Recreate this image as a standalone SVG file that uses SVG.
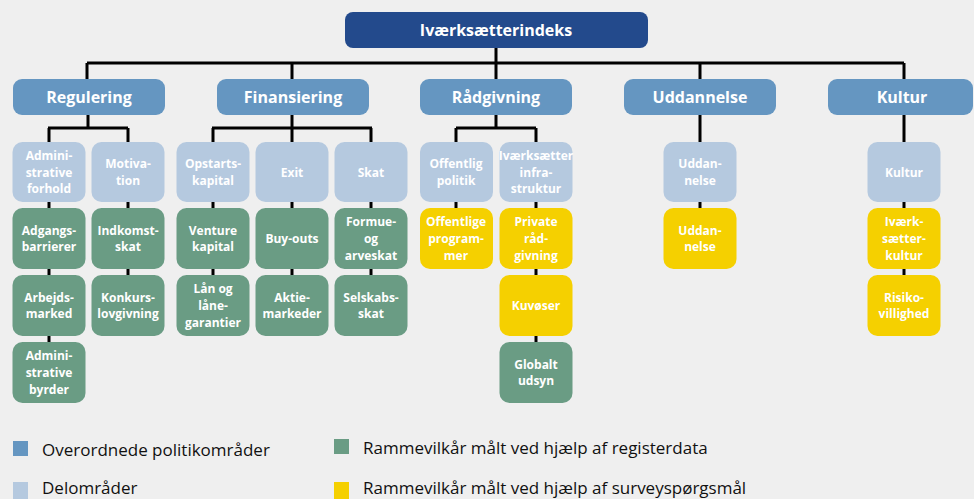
<svg xmlns="http://www.w3.org/2000/svg" width="974" height="499" viewBox="0 0 974 499">
<style>
.t{font-family:"Open Sans","Noto Sans","Liberation Sans",sans-serif;font-weight:bold;fill:#fff;text-anchor:middle;dominant-baseline:central}
.top{fill:#234a8c}
.l1{fill:#6596c1}
.l2{fill:#b5c9df}
.g{fill:#6a9c84}
.y{fill:#f5d000}
.t1{font-size:16px}
.t2{font-size:12px}
.c{stroke:#000;stroke-width:3;fill:none}
.lg{font-family:"Open Sans","Noto Sans","Liberation Sans",sans-serif;font-size:17px;fill:#111}
</style>
<rect width="974" height="499" fill="#efefef"/>
<g id="connectors" class="c">
<path d="M496 48V63M87 63H904M87 63V79M292 63V79M496 63V79M700 63V79M904 63V79"/>
<path d="M88 115V128M48 128H128M49 128V142M128 128V142"/>
<path d="M292 115V128M212 128H372M213 128V142M292 128V142M371 128V142"/>
<path d="M496 115V128M456 128H536M456 128V142M536 128V142"/>
<path d="M700 115V142M904 115V142"/>
<path d="M49 202V208M49 269V275M49 336V342"/>
<path d="M128 202V208M128 269V275"/>
<path d="M213 202V208M213 269V275M292 202V208M292 269V275M371 202V208M371 269V275"/>
<path d="M456 202V208M536 202V208M536 269V275M536 336V342"/>
<path d="M700 202V208M904 202V208M904 269V275"/>
</g>
<g id="n-top"><rect class="top" x="345" y="12" width="303" height="36" rx="8"/><text class="t t1" x="496" y="30">Iværksætterindeks</text></g>
<g id="n-regulering"><rect class="l1" x="13" y="79" width="152" height="36" rx="9"/><text class="t t1" x="89" y="97">Regulering</text></g>
<g id="n-finansiering"><rect class="l1" x="217" y="79" width="152" height="36" rx="9"/><text class="t t1" x="293" y="97">Finansiering</text></g>
<g id="n-radgivning"><rect class="l1" x="420" y="79" width="152" height="36" rx="9"/><text class="t t1" x="496" y="97">Rådgivning</text></g>
<g id="n-uddannelse"><rect class="l1" x="624" y="79" width="152" height="36" rx="9"/><text class="t t1" x="700" y="97">Uddannelse</text></g>
<g id="n-kultur"><rect class="l1" x="828" y="79" width="145" height="36" rx="9"/><text class="t t1" x="902" y="97">Kultur</text></g>

<g id="n-admforhold"><rect class="l2" x="12.5" y="142" width="73" height="60" rx="10"/><text class="t t2" x="49" y="155.3">Admini-</text><text class="t t2" x="49" y="172">strative</text><text class="t t2" x="49" y="188.7">forhold</text></g>
<g id="n-motivation"><rect class="l2" x="91.5" y="142" width="73" height="60" rx="10"/><text class="t t2" x="128" y="163.7">Motiva-</text><text class="t t2" x="128" y="180.3">tion</text></g>
<g id="n-adgang"><rect class="g" x="12.5" y="208" width="73" height="61" rx="10"/><text class="t t2" x="49" y="230.2">Adgangs-</text><text class="t t2" x="49" y="246.8">barrierer</text></g>
<g id="n-arbejd"><rect class="g" x="12.5" y="275" width="73" height="61" rx="10"/><text class="t t2" x="49" y="297.2">Arbejds-</text><text class="t t2" x="49" y="313.8">marked</text></g>
<g id="n-admbyrder"><rect class="g" x="12.5" y="342" width="73" height="61" rx="10"/><text class="t t2" x="49" y="355.8">Admini-</text><text class="t t2" x="49" y="372.5">strative</text><text class="t t2" x="49" y="389.2">byrder</text></g>
<g id="n-indkomst"><rect class="g" x="91.5" y="208" width="73" height="61" rx="10"/><text class="t t2" x="128" y="230.2">Indkomst-</text><text class="t t2" x="128" y="246.8">skat</text></g>
<g id="n-konkurs"><rect class="g" x="91.5" y="275" width="73" height="61" rx="10"/><text class="t t2" x="128" y="297.2">Konkurs-</text><text class="t t2" x="128" y="313.8">lovgivning</text></g>

<g id="n-opstart"><rect class="l2" x="176.5" y="142" width="73" height="60" rx="10"/><text class="t t2" x="213" y="163.7">Opstarts-</text><text class="t t2" x="213" y="180.3">kapital</text></g>
<g id="n-exit"><rect class="l2" x="255.5" y="142" width="73" height="60" rx="10"/><text class="t t2" x="292" y="172">Exit</text></g>
<g id="n-skat"><rect class="l2" x="334.5" y="142" width="73" height="60" rx="10"/><text class="t t2" x="371" y="172">Skat</text></g>
<g id="n-venture"><rect class="g" x="176.5" y="208" width="73" height="61" rx="10"/><text class="t t2" x="213" y="230.2">Venture</text><text class="t t2" x="213" y="246.8">kapital</text></g>
<g id="n-laan"><rect class="g" x="176.5" y="275" width="73" height="61" rx="10"/><text class="t t2" x="213" y="288.8">Lån og</text><text class="t t2" x="213" y="305.5">låne-</text><text class="t t2" x="213" y="322.2">garantier</text></g>
<g id="n-buyouts"><rect class="g" x="255.5" y="208" width="73" height="61" rx="10"/><text class="t t2" x="292" y="238.5">Buy-outs</text></g>
<g id="n-aktie"><rect class="g" x="255.5" y="275" width="73" height="61" rx="10"/><text class="t t2" x="292" y="297.2">Aktie-</text><text class="t t2" x="292" y="313.8">markeder</text></g>
<g id="n-formue"><rect class="g" x="334.5" y="208" width="73" height="61" rx="10"/><text class="t t2" x="371" y="221.8">Formue-</text><text class="t t2" x="371" y="238.5">og</text><text class="t t2" x="371" y="255.2">arveskat</text></g>
<g id="n-selskab"><rect class="g" x="334.5" y="275" width="73" height="61" rx="10"/><text class="t t2" x="371" y="297.2">Selskabs-</text><text class="t t2" x="371" y="313.8">skat</text></g>

<g id="n-offpol"><rect class="l2" x="420" y="142" width="73" height="60" rx="10"/><text class="t t2" x="456" y="163.7">Offentlig</text><text class="t t2" x="456" y="180.3">politik</text></g>
<g id="n-infra"><rect class="l2" x="499.5" y="142" width="73" height="60" rx="10"/><text class="t t2" x="536" y="155.3">Iværksætter</text><text class="t t2" x="536" y="172">infra-</text><text class="t t2" x="536" y="188.7">struktur</text></g>
<g id="n-offprog"><rect class="y" x="420" y="208" width="73" height="61" rx="10"/><text class="t t2" x="456" y="221.8">Offentlige</text><text class="t t2" x="456" y="238.5">program-</text><text class="t t2" x="456" y="255.2">mer</text></g>
<g id="n-private"><rect class="y" x="499.5" y="208" width="73" height="61" rx="10"/><text class="t t2" x="536" y="221.8">Private</text><text class="t t2" x="536" y="238.5">råd-</text><text class="t t2" x="536" y="255.2">givning</text></g>
<g id="n-kuvoser"><rect class="y" x="499.5" y="275" width="73" height="61" rx="10"/><text class="t t2" x="536" y="305.5">Kuvøser</text></g>
<g id="n-globalt"><rect class="g" x="499.5" y="342" width="73" height="61" rx="10"/><text class="t t2" x="536" y="364.2">Globalt</text><text class="t t2" x="536" y="380.8">udsyn</text></g>

<g id="n-udd2"><rect class="l2" x="663.5" y="142" width="73" height="60" rx="10"/><text class="t t2" x="700" y="163.7">Uddan-</text><text class="t t2" x="700" y="180.3">nelse</text></g>
<g id="n-udd3"><rect class="y" x="663.5" y="208" width="73" height="61" rx="10"/><text class="t t2" x="700" y="230.2">Uddan-</text><text class="t t2" x="700" y="246.8">nelse</text></g>

<g id="n-kultur2"><rect class="l2" x="867.5" y="142" width="73" height="60" rx="10"/><text class="t t2" x="904" y="172">Kultur</text></g>
<g id="n-ivkultur"><rect class="y" x="867.5" y="208" width="73" height="61" rx="10"/><text class="t t2" x="904" y="221.8">Iværk-</text><text class="t t2" x="904" y="238.5">sætter-</text><text class="t t2" x="904" y="255.2">kultur</text></g>
<g id="n-risiko"><rect class="y" x="867.5" y="275" width="73" height="61" rx="10"/><text class="t t2" x="904" y="297.2">Risiko-</text><text class="t t2" x="904" y="313.8">villighed</text></g>

<g id="legend">
<rect class="l1" x="13" y="441" width="15" height="15"/><text class="lg" x="42" y="456">Overordnede politikområder</text>
<rect class="g" x="334" y="439" width="15" height="15"/><text class="lg" x="363" y="454">Rammevilkår målt ved hjælp af registerdata</text>
<rect class="l2" x="13" y="482" width="15" height="17"/><text class="lg" x="42" y="494">Delområder</text>
<rect class="y" x="334" y="482" width="15" height="17"/><text class="lg" x="363" y="494">Rammevilkår målt ved hjælp af surveyspørgsmål</text>
</g>
</svg>
